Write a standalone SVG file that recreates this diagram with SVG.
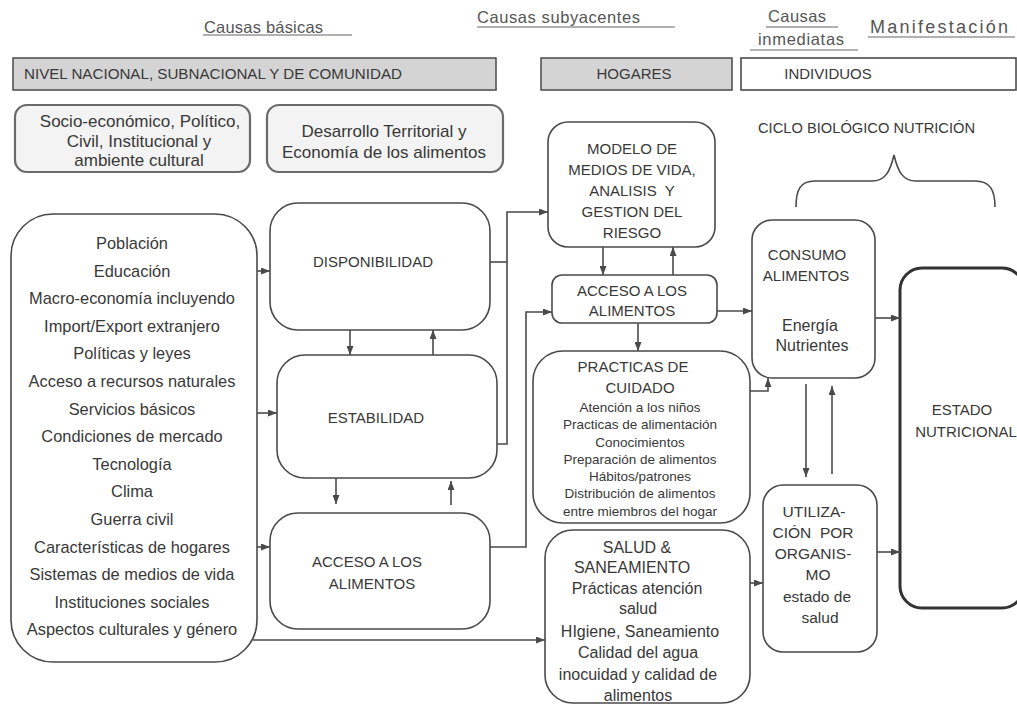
<svg xmlns="http://www.w3.org/2000/svg" width="1017" height="704" viewBox="0 0 1017 704">
<style>
.box{fill:#fff;stroke:#4a4a4a;stroke-width:1.6}
.band{fill:#d4d4d4;stroke:#4a4a4a;stroke-width:1.5}
.soft{fill:#f3f3f3;stroke:#6a6a6a;stroke-width:2.2}
.t{font-family:"Liberation Sans",Arial,sans-serif;fill:#383838;text-anchor:middle}
.l{text-anchor:start}
.h{font-family:"Liberation Sans",Arial,sans-serif;fill:#555;font-size:16.5px}
.ul{stroke:#666;stroke-width:1.2}
.conn{fill:none;stroke:#4a4a4a;stroke-width:1.6}
.s15{font-size:15px}
.s16{font-size:16px}
.s17{font-size:17px}
.s135{font-size:13.5px}
</style>
<defs>
<marker id="ah" markerWidth="9" markerHeight="7" refX="9" refY="3.5" orient="auto" markerUnits="userSpaceOnUse">
<path d="M0,0 L9,3.5 L0,7 z" fill="#4a4a4a"/>
</marker>
</defs>
<rect width="1017" height="704" fill="#fff"/>

<g id="headers">
<text class="h" x="204" y="33" textLength="119" lengthAdjust="spacing">Causas básicas</text>
<line class="ul" x1="203" y1="35" x2="352" y2="35"/>
<text class="h" x="477" y="23" textLength="163" lengthAdjust="spacing">Causas subyacentes</text>
<line class="ul" x1="477" y1="27" x2="675" y2="27"/>
<text class="h" x="768" y="22" textLength="58" lengthAdjust="spacing">Causas</text>
<line class="ul" x1="766" y1="27" x2="838" y2="27"/>
<text class="h" x="758" y="45" textLength="86" lengthAdjust="spacing">inmediatas</text>
<line class="ul" x1="750" y1="50" x2="858" y2="50"/>
<text class="h" style="font-size:18px" x="870" y="33" textLength="138" lengthAdjust="spacing">Manifestación</text>
<line class="ul" x1="868" y1="37" x2="1015" y2="37"/>
</g>

<g id="nivel">
<rect class="band" x="13" y="58" width="483" height="32"/>
<text class="t l s15" x="24" y="79" textLength="378" lengthAdjust="spacingAndGlyphs">NIVEL NACIONAL, SUBNACIONAL Y DE COMUNIDAD</text>
</g>
<g id="hogares">
<rect class="band" x="541" y="58" width="191" height="32"/>
<text class="t s15" x="634" y="79">HOGARES</text>
</g>
<g id="individuos">
<rect class="box" x="741" y="58" width="275" height="32"/>
<text class="t s15" x="828" y="79">INDIVIDUOS</text>
</g>

<g id="socio">
<rect class="soft" x="15" y="105" width="235" height="67" rx="12"/>
<text class="t s17" x="140" y="127">Socio-económico, Político,</text>
<text class="t s17" x="139" y="147">Civil, Institucional y</text>
<text class="t s17" x="139" y="166">ambiente cultural</text>
</g>
<g id="desarrollo">
<rect class="soft" x="267" y="105" width="236" height="67" rx="12"/>
<text class="t s17" x="384" y="137">Desarrollo Territorial y</text>
<text class="t s17" x="384" y="158">Economía de los alimentos</text>
</g>

<g id="factores">
<rect class="box" x="11" y="214" width="246" height="448" rx="42"/>
<g class="t" style="font-size:16.4px">
<text x="132" y="249">Población</text>
<text x="132" y="276.6">Educación</text>
<text x="132" y="304.2">Macro-economía incluyendo</text>
<text x="132" y="331.8">Import/Export extranjero</text>
<text x="132" y="359.4">Políticas y leyes</text>
<text x="132" y="387">Acceso a recursos naturales</text>
<text x="132" y="414.6">Servicios básicos</text>
<text x="132" y="442.2">Condiciones de mercado</text>
<text x="132" y="469.8">Tecnología</text>
<text x="132" y="497.4">Clima</text>
<text x="132" y="525">Guerra civil</text>
<text x="132" y="552.6">Características de hogares</text>
<text x="132" y="580.2">Sistemas de medios de vida</text>
<text x="132" y="607.8">Instituciones sociales</text>
<text x="132" y="635.4">Aspectos culturales y género</text>
</g>
</g>

<g id="disponibilidad">
<rect class="box" x="270" y="203" width="220" height="127" rx="28"/>
<text class="t s15" x="373" y="267">DISPONIBILIDAD</text>
</g>
<g id="estabilidad">
<rect class="box" x="277" y="355" width="220" height="123" rx="28"/>
<text class="t s15" x="376" y="423">ESTABILIDAD</text>
</g>
<g id="acceso1">
<rect class="box" x="270" y="513" width="220" height="116" rx="28"/>
<text class="t s15" x="367" y="567">ACCESO A LOS</text>
<text class="t s15" x="372" y="589">ALIMENTOS</text>
</g>

<g id="modelo">
<rect class="box" x="548" y="122" width="167" height="125" rx="20"/>
<text class="t s15" x="632" y="154">MODELO DE</text>
<text class="t s15" x="632" y="175">MEDIOS DE VIDA,</text>
<text class="t s15" x="632" y="196" xml:space="preserve">ANALISIS  Y</text>
<text class="t s15" x="632" y="217">GESTION DEL</text>
<text class="t s15" x="632" y="238">RIESGO</text>
</g>
<g id="acceso2">
<rect class="box" x="552" y="275" width="165" height="48" rx="10"/>
<text class="t s15" x="632" y="296">ACCESO A LOS</text>
<text class="t s15" x="632" y="316">ALIMENTOS</text>
</g>
<g id="practicas">
<rect class="box" x="533" y="351" width="217" height="172" rx="30"/>
<text class="t s15" x="633" y="372">PRACTICAS DE</text>
<text class="t s15" x="640" y="393">CUIDADO</text>
<g class="t s135">
<text x="640" y="412">Atención a los niños</text>
<text x="640" y="429">Practicas de alimentación</text>
<text x="640" y="446.5">Conocimientos</text>
<text x="640" y="463.5">Preparación de alimentos</text>
<text x="640" y="480.5">Hábitos/patrones</text>
<text x="640" y="498">Distribución de alimentos</text>
<text x="640" y="516">entre miembros del hogar</text>
</g>
</g>
<g id="salud">
<rect class="box" x="545" y="530" width="205" height="173" rx="28"/>
<g class="t s16">
<text x="637" y="553">SALUD &amp;</text>
<text x="632" y="573">SANEAMIENTO</text>
<text x="637" y="594">Prácticas atención</text>
<text x="638" y="614">salud</text>
<text x="640" y="637">HIgiene, Saneamiento</text>
<text x="638" y="658">Calidad del agua</text>
<text x="638" y="680">inocuidad y calidad de</text>
<text x="638" y="701">alimentos</text>
</g>
</g>

<g id="ciclo">
<text class="t l" style="font-size:14.7px" x="758" y="133">CICLO BIOLÓGICO NUTRICIÓN</text>
<path class="conn" d="M796,207 C796,190 800,181 815,181 L872,181 C885,181 890,172 894,155 C898,172 903,181 916,181 L975,181 C990,181 995,190 995,207"/>
</g>
<g id="consumo">
<rect class="box" x="752" y="220" width="123" height="158" rx="20"/>
<text class="t s15" x="807" y="260">CONSUMO</text>
<text class="t s15" x="806" y="281">ALIMENTOS</text>
<text class="t s16" x="810" y="331">Energía</text>
<text class="t s16" x="812" y="351">Nutrientes</text>
</g>
<g id="utilizacion">
<rect class="box" x="763" y="485" width="114" height="167" rx="20"/>
<g class="t" style="font-size:15.5px">
<text x="814" y="517">UTILIZA-</text>
<text x="813" y="538" xml:space="preserve">CIÓN  POR</text>
<text x="813" y="559">ORGANIS-</text>
<text x="818" y="580">MO</text>
<text x="817" y="602">estado de</text>
<text x="820" y="623">salud</text>
</g>
</g>
<g id="estado">
<rect x="900" y="268" width="124" height="340" rx="22" fill="#fff" stroke="#333" stroke-width="3"/>
<text class="t s15" x="962" y="415">ESTADO</text>
<text class="t s15" x="966" y="437">NUTRICIONAL</text>
</g>

<g id="connectors">
<line class="conn" x1="257" y1="271" x2="270" y2="271" marker-end="url(#ah)"/>
<line class="conn" x1="257" y1="413" x2="277" y2="413" marker-end="url(#ah)"/>
<line class="conn" x1="257" y1="547" x2="270" y2="547" marker-end="url(#ah)"/>
<line class="conn" x1="253" y1="640" x2="545" y2="640" marker-end="url(#ah)"/>
<line class="conn" x1="350" y1="330" x2="350" y2="355" marker-end="url(#ah)"/>
<line class="conn" x1="433" y1="355" x2="433" y2="330" marker-end="url(#ah)"/>
<line class="conn" x1="336" y1="478" x2="336" y2="504" marker-end="url(#ah)"/>
<line class="conn" x1="451" y1="505" x2="451" y2="481" marker-end="url(#ah)"/>
<polyline class="conn" points="490,262 507,262"/>
<polyline class="conn" points="497,444 507,444 507,212 548,212" marker-end="url(#ah)"/>
<polyline class="conn" points="490,547 526,547 526,312 552,312" marker-end="url(#ah)"/>
<line class="conn" x1="603" y1="247" x2="603" y2="275" marker-end="url(#ah)"/>
<line class="conn" x1="673" y1="275" x2="673" y2="247" marker-end="url(#ah)"/>
<line class="conn" x1="717" y1="311" x2="752" y2="311" marker-end="url(#ah)"/>
<line class="conn" x1="638" y1="323" x2="638" y2="351" marker-end="url(#ah)"/>
<polyline class="conn" points="750,391 768,391 768,378" marker-end="url(#ah)"/>
<line class="conn" x1="750" y1="583" x2="763" y2="583" marker-end="url(#ah)"/>
<line class="conn" x1="806" y1="384" x2="806" y2="477" marker-end="url(#ah)"/>
<line class="conn" x1="832" y1="474" x2="832" y2="386" marker-end="url(#ah)"/>
<line class="conn" x1="875" y1="318" x2="900" y2="318" marker-end="url(#ah)"/>
<line class="conn" x1="877" y1="552" x2="900" y2="552" marker-end="url(#ah)"/>
</g>
</svg>
